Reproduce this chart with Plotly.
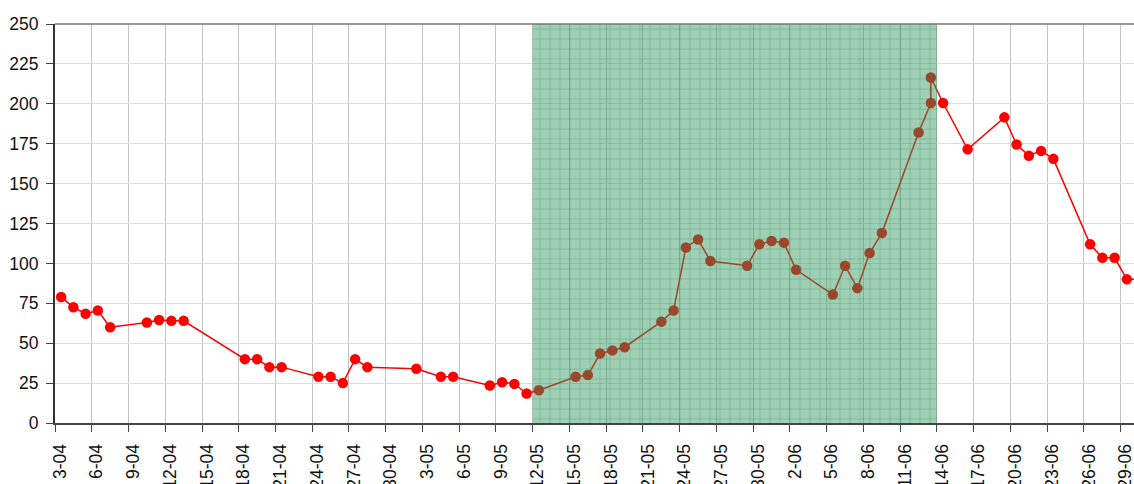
import plotly.graph_objects as go

dates = [
    "2021-04-03", "2021-04-04", "2021-04-05", "2021-04-06", "2021-04-07",
    "2021-04-10", "2021-04-11", "2021-04-12", "2021-04-13",
    "2021-04-18", "2021-04-19", "2021-04-20", "2021-04-21",
    "2021-04-24", "2021-04-25", "2021-04-26", "2021-04-27", "2021-04-28",
    "2021-05-02", "2021-05-04", "2021-05-05",
    "2021-05-08", "2021-05-09", "2021-05-10", "2021-05-11", "2021-05-12",
    "2021-05-15", "2021-05-16", "2021-05-17", "2021-05-18", "2021-05-19",
    "2021-05-22", "2021-05-23", "2021-05-24", "2021-05-25", "2021-05-26",
    "2021-05-29", "2021-05-30", "2021-05-31", "2021-06-01", "2021-06-02",
    "2021-06-05", "2021-06-06", "2021-06-07", "2021-06-08", "2021-06-09",
    "2021-06-12", "2021-06-13", "2021-06-13", "2021-06-14",
    "2021-06-16", "2021-06-19", "2021-06-20", "2021-06-21", "2021-06-22", "2021-06-23",
    "2021-06-26", "2021-06-27", "2021-06-28", "2021-06-29", "2021-06-30",
]
values = [
    79, 72.5, 68.5, 70.5, 60,
    63, 64.5, 64, 64,
    40, 40, 35, 35,
    29, 29, 25, 40, 35,
    34, 29, 29,
    23.5, 25.5, 24.5, 18.5, 20.5,
    29, 30, 43.5, 45.5, 47.5,
    63.5, 70.5, 110, 115, 101.5,
    98.5, 112, 114, 113, 96,
    80.5, 98.5, 84.5, 106.5, 119,
    182, 200.5, 216.5, 200.5,
    171.5, 191.5, 174.5, 167.5, 170.5, 165.5,
    112, 103.5, 103.5, 90, 90,
]
sample_time = " 12:00"

highlight_start = "2021-05-12"
highlight_end = "2021-06-14"

x_range = ["2021-04-03", "2021-06-30 02:00"]
y_range = [0, 250]

xs = [d + sample_time for d in dates]

fig = go.Figure()
fig.add_trace(go.Scatter(
    x=xs, y=values, mode="lines+markers",
    line=dict(color="#ff0000", width=1.5),
    marker=dict(color="#ff0000", size=10.5),
    hoverinfo="skip",
))
fig.add_trace(go.Scatter(
    x=[highlight_start, highlight_start, highlight_end, highlight_end],
    y=[y_range[0], y_range[1], y_range[1], y_range[0]],
    mode="lines", fill="toself",
    line=dict(width=0, color="rgba(0,0,0,0)"),
    fillcolor="rgba(46,150,92,0.46)",
    fillpattern=dict(shape="+", size=10, solidity=0.12,
                     bgcolor="rgba(46,150,92,0.46)",
                     fgcolor="rgba(25,125,75,0.75)"),
    hoverinfo="skip",
))

fig.update_layout(
    width=1134, height=484,
    margin=dict(l=55, r=0, t=24, b=61, autoexpand=False),
    paper_bgcolor="white", plot_bgcolor="white",
    showlegend=False,
    font=dict(family="Liberation Sans, Arial, sans-serif", color="#111111"),
)
fig.update_xaxes(
    type="date", range=x_range,
    tick0="2021-04-03", dtick=3 * 86400000, tickformat="%-d-%m",
    tickangle=-90, tickfont=dict(size=17.5),
    ticks="outside", ticklen=7, tickcolor="#444444",
    ticklabelshift=5, ticklabelstandoff=5, ticklabeloverflow="allow",
    showgrid=True, gridcolor="#c4c4c4", gridwidth=1,
    showline=True, linecolor="#444444", linewidth=2,
    mirror=False, zeroline=False, automargin=False,
)
fig.update_yaxes(
    range=y_range, tick0=0, dtick=25,
    tickfont=dict(size=17.5),
    ticks="outside", ticklen=7, tickcolor="#444444",
    ticklabelstandoff=4,
    showgrid=True, gridcolor="#dcdcdc", gridwidth=1,
    showline=True, linecolor="#333333", linewidth=2,
    zeroline=False, automargin=False,
)
fig.add_shape(type="line", xref="paper", yref="paper", x0=0, x1=1, y0=1, y1=1,
              line=dict(color="#777777", width=1.5), layer="above")

fig.write_html(
    "out.html",
    config={"displayModeBar": False, "staticPlot": True},
    post_script="document.body.style.margin='0';document.body.style.overflow='hidden';",
)
